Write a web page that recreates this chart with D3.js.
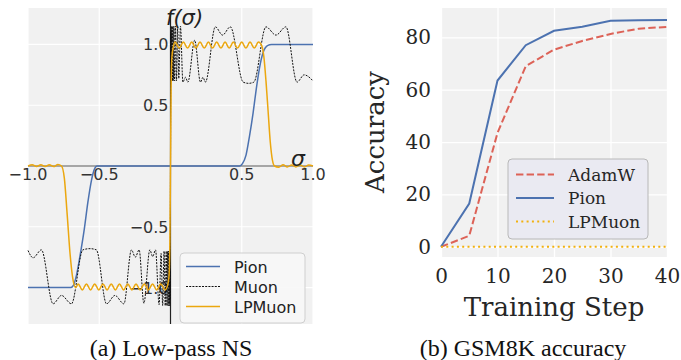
<!DOCTYPE html>
<html>
<head>
<meta charset="utf-8">
<script src="https://cdn.jsdelivr.net/npm/d3@7"></script>
<style>
  html, body { margin: 0; padding: 0; background: #fff; }
  svg { display: block; }
</style>
</head>
<body>
<script>
// ---- panel (a): low-pass NS, points as [sigma, f]
var sigmaTicks = [-1, -0.5, 0.5, 1];
var fTicks = [1, 0.5, -0.5, -1];

var pionPts = [[-1, -1], [-0.7, -1], [-0.68, -0.98], [-0.66, -0.9], [-0.635, -0.74], [-0.605, -0.52],
  [-0.58, -0.3], [-0.555, -0.12], [-0.535, -0.03], [-0.515, 0], [0.485, 0], [0.505, 0.02], [0.53, 0.09],
  [0.555, 0.25], [0.58, 0.44], [0.605, 0.66], [0.63, 0.84], [0.655, 0.95], [0.68, 0.99], [0.71, 1], [1, 1]];

var muonPts = [[-1, -0.695], [-0.964, -0.755], [-0.906, -0.69], [-0.824, -1.134], [-0.765, -1.065],
  [-0.695, -1.134], [-0.615, -0.69], [-0.565, -0.68], [-0.52, -0.69], [-0.449, -1.134], [-0.39, -1.065],
  [-0.327, -1.134], [-0.274, -0.69], [-0.247, -0.75], [-0.22, -0.69], [-0.187, -1.13], [-0.145, -0.69],
  [-0.125, -0.745], [-0.105, -0.69], [-0.08, -1.14], [-0.066, -0.72], [-0.055, -1.15], [-0.045, -0.7],
  [-0.037, -1.15], [-0.03, -0.7], [-0.025, -1.15], [-0.02, -0.7], [-0.017, -1.15], [-0.014, -0.7],
  [-0.011, -1.15], [-0.008, -0.7], [-0.006, -1.15], [-0.004, -0.7], [-0.002, -1.1], [0, 0],
  [0.002, 1.1], [0.004, 0.7], [0.006, 1.15], [0.008, 0.7], [0.011, 1.15], [0.014, 0.7], [0.017, 1.15],
  [0.02, 0.7], [0.024, 1.15], [0.029, 0.7], [0.035, 1.15], [0.042, 0.7], [0.05, 1.15], [0.058, 0.72],
  [0.07, 1.15], [0.087, 0.69], [0.105, 0.73], [0.122, 0.69], [0.17, 1.035],
  [0.21, 0.69], [0.228, 0.73], [0.245, 0.69], [0.315, 1.145], [0.365, 1.077], [0.42, 1.145], [0.51, 0.69],
  [0.548, 0.68], [0.585, 0.69], [0.67, 1.145], [0.74, 1.077], [0.81, 1.145], [0.888, 0.69], [0.938, 0.75],
  [1, 0.7]];

var lpmuonPts = [[-1, 0], [-0.97, 0.01], [-0.94, -0.005], [-0.91, 0.01], [-0.88, -0.005], [-0.85, 0.01],
  [-0.82, -0.005], [-0.79, 0.012], [-0.765, 0], [-0.745, -0.1], [-0.725, -0.4], [-0.705, -0.72],
  [-0.685, -0.93], [-0.665, -1.0], [-0.648, -0.97], [-0.619, -1.02], [-0.59, -0.97], [-0.561, -1.02],
  [-0.532, -0.97], [-0.503, -1.02], [-0.474, -0.97], [-0.445, -1.02], [-0.416, -0.97], [-0.387, -1.02],
  [-0.358, -0.97], [-0.329, -1.02], [-0.3, -0.97], [-0.271, -1.02], [-0.242, -0.97], [-0.213, -1.02],
  [-0.184, -0.97], [-0.155, -1.02], [-0.126, -0.97], [-0.097, -1.02], [-0.068, -0.97], [-0.039, -1.02],
  [-0.02, -0.98], [-0.01, -0.9], [-0.004, -0.6], [0, 0], [0.004, 0.6], [0.01, 0.9], [0.02, 0.98],
  [0.032, 1.02], [0.061, 0.97], [0.09, 1.02], [0.12, 0.97], [0.149, 1.02], [0.178, 0.97], [0.207, 1.02],
  [0.237, 0.97], [0.266, 1.02], [0.295, 0.97], [0.324, 1.02], [0.354, 0.97], [0.383, 1.02], [0.412, 0.97],
  [0.441, 1.02], [0.47, 0.97], [0.5, 1.02], [0.529, 0.97], [0.558, 1.02], [0.588, 0.97], [0.617, 1.02],
  [0.64, 0.99], [0.655, 0.9], [0.67, 0.7], [0.685, 0.45], [0.7, 0.2], [0.715, 0.05], [0.73, 0],
  [0.76, -0.01], [0.79, 0.01], [0.82, -0.008], [0.85, 0.008], [0.88, -0.008], [0.91, 0.008],
  [0.94, -0.008], [0.97, 0.008], [1, 0]];

// ---- panel (b): GSM8K accuracy
var steps = [0, 5, 10, 15, 20, 25, 30, 35, 40];
var adamwAcc = [0, 4.2, 43.5, 69, 75.3, 78.6, 81.3, 83.3, 84];
var pionAcc = [0, 16.5, 63.5, 77, 82.5, 84, 86.3, 86.5, 86.6];
var lpmuonAcc = [0, 0, 0, 0, 0, 0, 0, 0, 0];
var stepTicks = [0, 10, 20, 30, 40];
var accTicks = [0, 20, 40, 60, 80];

var W = 681, H = 360;
var BG = '#f1f1f1';
var C_PION = '#4c72b0', C_LP = '#eba70f', C_ADAM = '#dd6257';
var SANS = 'DejaVu Sans, sans-serif', SERIF = 'DejaVu Serif, serif', TIMES = 'Liberation Serif, Times New Roman, serif';

var svg = d3.select('body').append('svg').attr('width', W).attr('height', H);

// ============ panel (a) ============
var xL = d3.scaleLinear().domain([-1, 1]).range([28, 313]);
var yL = d3.scaleLinear().domain([-1.3, 1.3]).range([324, 8]);
var gA = svg.append('g');

gA.append('rect').attr('x', xL(-1)).attr('y', yL(1.3))
  .attr('width', xL(1) - xL(-1)).attr('height', yL(-1.3) - yL(1.3)).attr('fill', BG);

gA.selectAll('line.gx').data(sigmaTicks).enter().append('line')
  .attr('x1', function(d) { return xL(d); }).attr('x2', function(d) { return xL(d); })
  .attr('y1', yL(1.3)).attr('y2', yL(-1.3)).attr('stroke', '#fff').attr('stroke-width', 1.2);
gA.selectAll('line.gy').data(fTicks).enter().append('line')
  .attr('y1', function(d) { return yL(d); }).attr('y2', function(d) { return yL(d); })
  .attr('x1', xL(-1)).attr('x2', xL(1)).attr('stroke', '#fff').attr('stroke-width', 1.2);

// spines through the origin
gA.append('line').attr('x1', xL(-1)).attr('x2', xL(1)).attr('y1', yL(0)).attr('y2', yL(0))
  .attr('stroke', '#8c8c8c').attr('stroke-width', 1.3);
gA.append('line').attr('x1', xL(0)).attr('x2', xL(0)).attr('y1', yL(1.3) + 4).attr('y2', yL(-1.3))
  .attr('stroke', '#222').attr('stroke-width', 1.2);

// tick labels
gA.selectAll('text.tx').data(sigmaTicks).enter().append('text')
  .attr('x', function(d) { return xL(d); }).attr('y', yL(0) + 14)
  .attr('text-anchor', 'middle').attr('font-family', SANS).attr('font-size', 16).attr('fill', '#333')
  .text(function(d) { return d3.format('.1f')(d).replace('-', '\u2212'); });
gA.selectAll('text.ty').data(fTicks).enter().append('text')
  .attr('x', xL(0) - 2).attr('y', function(d) { return yL(d) + 6; })
  .attr('text-anchor', 'end').attr('font-family', SANS).attr('font-size', 16).attr('fill', '#333')
  .text(function(d) { return d3.format('.1f')(d).replace('-', '\u2212'); });

var lineL = d3.line().x(function(d) { return xL(d[0]); }).y(function(d) { return yL(d[1]); })
  .curve(d3.curveMonotoneX);

gA.append('path').datum(pionPts).attr('d', lineL).attr('fill', 'none')
  .attr('stroke', C_PION).attr('stroke-width', 1.5);
gA.append('path').datum(muonPts).attr('d', lineL).attr('fill', 'none')
  .attr('stroke', '#111').attr('stroke-width', 1).attr('stroke-dasharray', '2,1.2');
gA.append('path').datum(lpmuonPts).attr('d', lineL).attr('fill', 'none')
  .attr('stroke', C_LP).attr('stroke-width', 1.5);

// axis names
gA.append('text').attr('x', 166).attr('y', 25).attr('font-family', SANS).attr('font-style', 'italic')
  .attr('font-size', 21).attr('fill', '#222').text('f(\u03c3)');
gA.append('text').attr('x', 291).attr('y', 166).attr('font-family', SANS).attr('font-style', 'italic')
  .attr('font-size', 22).attr('fill', '#222').text('\u03c3');

// legend (a)
var legA = [{ name: 'Pion', color: C_PION, dash: null, w: 1.5 },
            { name: 'Muon', color: '#111', dash: '2,1.2', w: 1 },
            { name: 'LPMuon', color: C_LP, dash: null, w: 1.5 }];
var lgA = gA.append('g').attr('transform', 'translate(180,253)');
lgA.append('rect').attr('width', 125).attr('height', 70).attr('rx', 4)
  .attr('fill', '#f7f7f7').attr('fill-opacity', 0.9).attr('stroke', '#cfcfcf');
legA.forEach(function(d, i) {
  var yy = 13.5 + i * 20;
  lgA.append('line').attr('x1', 6).attr('x2', 40).attr('y1', yy).attr('y2', yy)
    .attr('stroke', d.color).attr('stroke-width', d.w).attr('stroke-dasharray', d.dash);
  lgA.append('text').attr('x', 54).attr('y', yy + 6).attr('font-family', SANS).attr('font-size', 16)
    .attr('fill', '#222').text(d.name);
});

svg.append('text').attr('x', 171).attr('y', 356).attr('text-anchor', 'middle')
  .attr('font-family', TIMES).attr('font-size', 24).attr('fill', '#111').text('(a) Low-pass NS');

// ============ panel (b) ============
var xR = d3.scaleLinear().domain([0, 40]).range([441, 667]);
var yR = d3.scaleLinear().domain([-3.9, 91.2]).range([257, 8]);
var gB = svg.append('g');

gB.append('rect').attr('x', xR(0)).attr('y', yR(91.2))
  .attr('width', xR(40) - xR(0)).attr('height', yR(-3.9) - yR(91.2)).attr('fill', BG);

gB.append('g').attr('transform', 'translate(0,' + yR(-3.9) + ')')
  .call(d3.axisBottom(xR).tickValues(stepTicks).tickSize(-(yR(-3.9) - yR(91.2))).tickPadding(12))
  .call(function(g) {
    g.select('.domain').remove();
    g.selectAll('.tick line').attr('stroke', '#fff').attr('stroke-width', 1.3);
    g.selectAll('.tick text').attr('font-family', SERIF).attr('font-size', 20).attr('fill', '#262626');
  });
gB.append('g').attr('transform', 'translate(' + xR(0) + ',0)')
  .call(d3.axisLeft(yR).tickValues(accTicks).tickSize(-(xR(40) - xR(0))).tickPadding(10))
  .call(function(g) {
    g.select('.domain').remove();
    g.selectAll('.tick line').attr('stroke', '#fff').attr('stroke-width', 1.3);
    g.selectAll('.tick text').attr('font-family', SERIF).attr('font-size', 20).attr('fill', '#262626');
  });

var lineR = function(vals) {
  return d3.line().x(function(d, i) { return xR(steps[i]); }).y(function(d) { return yR(d); })(vals);
};
gB.append('path').attr('d', lineR(adamwAcc)).attr('fill', 'none').attr('stroke', C_ADAM)
  .attr('stroke-width', 2).attr('stroke-dasharray', '7.4,3.2');
gB.append('path').attr('d', lineR(pionAcc)).attr('fill', 'none').attr('stroke', C_PION)
  .attr('stroke-width', 2);
gB.append('path').attr('d', lineR(lpmuonAcc)).attr('fill', 'none').attr('stroke', '#f2b10f')
  .attr('stroke-width', 2).attr('stroke-dasharray', '2,3.3');

gB.append('text').attr('x', 554).attr('y', 316).attr('text-anchor', 'middle')
  .attr('font-family', SERIF).attr('font-size', 26).attr('fill', '#262626').text('Training Step');
gB.append('text').attr('transform', 'translate(384,132) rotate(-90)').attr('text-anchor', 'middle')
  .attr('font-family', SERIF).attr('font-size', 26).attr('fill', '#262626').text('Accuracy');

// legend (b)
var legB = [{ name: 'AdamW', color: C_ADAM, dash: '7.4,3.2' },
            { name: 'Pion', color: C_PION, dash: null },
            { name: 'LPMuon', color: '#f2b10f', dash: '2,3.3' }];
var lgB = gB.append('g').attr('transform', 'translate(508,159)');
lgB.append('rect').attr('width', 140).attr('height', 80).attr('rx', 4)
  .attr('fill', '#e9e9f1').attr('fill-opacity', 0.95).attr('stroke', '#b8b8b8');
legB.forEach(function(d, i) {
  var yy = 15.5 + i * 23.5;
  lgB.append('line').attr('x1', 8).attr('x2', 46).attr('y1', yy).attr('y2', yy)
    .attr('stroke', d.color).attr('stroke-width', 2).attr('stroke-dasharray', d.dash);
  lgB.append('text').attr('x', 60).attr('y', yy + 6).attr('font-family', SERIF).attr('font-size', 17)
    .attr('fill', '#262626').text(d.name);
});

svg.append('text').attr('x', 523).attr('y', 356).attr('text-anchor', 'middle')
  .attr('font-family', TIMES).attr('font-size', 24).attr('fill', '#111').text('(b) GSM8K accuracy');
</script>
</body>
</html>
